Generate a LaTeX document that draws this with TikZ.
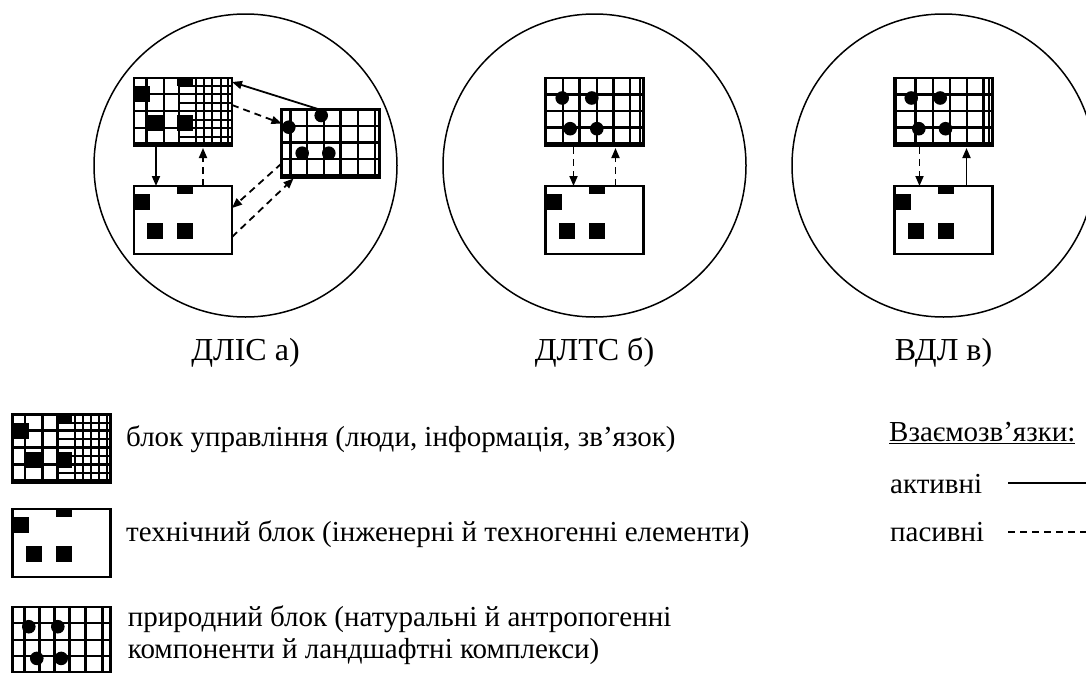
\documentclass[tikz,border=0pt]{standalone}
\usepackage{fontspec}
\setmainfont{Liberation Serif}
\usetikzlibrary{arrows.meta,calc}
\tikzset{
 ring/.style={draw, circle, line width=1.5pt, minimum size=303pt, inner sep=0pt, outer sep=0pt},
 blk/.style={draw, line width=2.2pt, minimum width=98pt, minimum height=68pt, inner sep=0pt, outer sep=0pt},
 gridline/.style={line width=2.4pt},
 fineline/.style={line width=2pt},
 thickbottom/.style={line width=4.5pt},
 link/.style={line width=1.8pt, -{Triangle[length=10pt,width=8pt]}},
 passive/.style={link, dash pattern=on 7pt off 5pt},
 legline/.style={line width=1.6pt},
 legdash/.style={line width=1.6pt, dash pattern=on 7pt off 5pt},
 lbl/.style={font=\fontsize{32}{38}\selectfont, anchor=base, inner sep=0pt},
 legtext/.style={font=\fontsize{29}{33}\selectfont, anchor=base west, inner sep=0pt},
}
% technical block: four black squares
\newcommand\techpat[1]{%
 \begin{scope}[shift={(#1.north west)}]
  \fill (0,8) rectangle (16,24);
  \fill (43,0) rectangle (59,8);
  \fill (13,37) rectangle (29,53);
  \fill (43,37) rectangle (59,53);
 \end{scope}}
% control block: squares + coarse and fine grid
\newcommand\ctrlpat[1]{%
 \techpat{#1}%
 \begin{scope}[shift={(#1.north west)}]
  \foreach \xx in {12.3,30,45} \draw[gridline] (\xx,0) -- (\xx,68);
  \foreach \xx in {62,70,78.3,86.5,94.3} \draw[fineline] (\xx,0) -- (\xx,68);
  \foreach \yy in {16,33,50} \draw[gridline] (0,\yy) -- (98,\yy);
  \foreach \yy in {8.3,24.5,41.7,58.5} \draw[fineline] (44,\yy) -- (98,\yy);
  \draw[thickbottom] (0,66.5) -- (98,66.5);
 \end{scope}}
% natural block grid: #2 = list of vertical line offsets
\newcommand\natgrid[2]{%
 \begin{scope}[shift={(#1.north west)}]
  \foreach \xx in {#2} \draw[gridline] (\xx,0) -- (\xx,68);
  \foreach \yy in {16.5,33,49.5} \draw[gridline] (0,\yy) -- (98,\yy);
  \draw[thickbottom] (0,66.5) -- (98,66.5);
 \end{scope}}
\newcommand\natdots[2]{%
 \begin{scope}[shift={(#1.north west)}]
  \foreach \p in {#2} \fill \p circle[radius=6.8pt];
 \end{scope}}
\begin{document}
\begin{tikzpicture}[x=1pt,y=-1pt]
\useasboundingbox (0,0) rectangle (1086,672);
\clip (0,0) rectangle (1086,672);
\fill[white] (0,0) rectangle (1086,672);

% circles
\node[ring] (circA) at (245.5,165.5) {};
\node[ring] (circB) at (594.5,165.5) {};
\node[ring] (circC) at (943.5,165.5) {};

% ---- a) ----
\node[blk] (ctlA) at (183,112) {};
\ctrlpat{ctlA}
\node[blk] (tecA) at (183,220) {};
\techpat{tecA}
\node[blk] (natA) at (330.5,143.5) {};
\natgrid{natA}{9,25.7,42.3,59,76.7,93.3}
\natdots{natA}{(7.3,17.7),(39.7,6),(20.7,43.7),(47.3,43.7)}

\draw[link] ($(ctlA.south west)+(22,0)$) -- ($(tecA.north west)+(22,0)$);
\draw[passive] ($(tecA.north west)+(69,0)$) -- ($(ctlA.south west)+(69,2)$);
\draw[link] ($(natA.north west)+(38,0)$) -- ($(ctlA.north east)+(0,4)$);
\draw[passive] ($(ctlA.north east)+(0,27)$) -- ($(natA.north west)+(0,14)$);
\draw[passive] ($(natA.north west)+(0,54)$) -- ($(tecA.north east)+(0,22)$);
\draw[passive] ($(tecA.north east)+(0,51)$) -- ($(natA.south west)+(12,1)$);

% ---- b) ----
\node[blk] (natB) at (594.5,112) {};
\natgrid{natB}{17.3,34,51.3,68,84.7,94.7}
\natdots{natB}{(16.7,20),(46.3,20),(24.7,50.7),(51.3,50.7)}
\node[blk] (tecB) at (594.5,220) {};
\techpat{tecB}
\draw[passive] ($(natB.south west)+(28,1)$) -- ($(tecB.north west)+(28,0)$);
\draw[passive] ($(tecB.north west)+(70,0)$) -- ($(natB.south west)+(70,2)$);

% ---- c) ----
\node[blk] (natC) at (943.5,112) {};
\natgrid{natC}{1.7,21,38.3,55.7,72.3,89,94.3}
\natdots{natC}{(16.7,20),(45.7,20),(24.3,50.7),(51,50.7)}
\node[blk] (tecC) at (943.5,220) {};
\techpat{tecC}
\draw[passive] ($(natC.south west)+(25,1)$) -- ($(tecC.north west)+(25,0)$);
\draw[link] ($(tecC.north west)+(72,0)$) -- ($(natC.south west)+(72,2)$);

% labels
\node[lbl] (labA) at (245.5,360) {ДЛІС а)};
\node[lbl] (labB) at (594.5,360) {ДЛТС б)};
\node[lbl] (labC) at (943.5,360) {ВДЛ в)};

% legend left
\node[blk] (legCtl) at (61.5,448.5) {};
\ctrlpat{legCtl}
\node[blk] (legTec) at (61.5,543) {};
\techpat{legTec}
\node[blk] (legNat) at (61.5,640.7) {};
\natgrid{legNat}{12,27,42,57,73,90}
\natdots{legNat}{(16.3,20),(45.3,20),(24.3,51.7),(48.7,51.7)}

\node[legtext] (tCtl) at (126,446.7) {блок управління (люди, інформація, зв’язок)};
\node[legtext] (tTec) at (126,541.5) {технічний блок (інженерні й техногенні елементи)};
\node[legtext] (tNat1) at (127.7,626) {природний блок (натуральні й антропогенні};
\node[legtext] (tNat2) at (127.7,658.3) {компоненти й ландшафтні комплекси)};

% legend right
\node[legtext] (tRel) at (889,441.7) {\underline{Взаємозв’язки:}};
\node[legtext] (tAct) at (890,493.3) {активні};
\node[legtext] (tPas) at (890,541.7) {пасивні};
\coordinate (actS) at (1008,483);
\coordinate (actE) at (1090,483);
\coordinate (pasS) at (1008,532);
\coordinate (pasE) at (1090,532);
\draw[legline] (actS) -- (actE);
\draw[legdash] (pasS) -- (pasE);
\end{tikzpicture}
\end{document}
